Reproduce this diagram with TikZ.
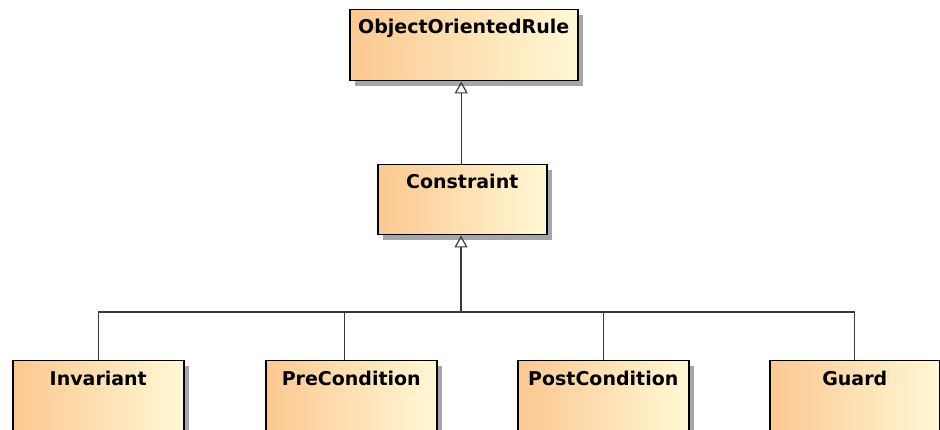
\documentclass[tikz,border=0pt]{standalone}
\usepackage{fontspec}
\setmainfont{DejaVu Sans}
\usetikzlibrary{shadows,arrows.meta}
\definecolor{peach}{HTML}{FCC891}
\definecolor{cream}{HTML}{FFF8D4}
\definecolor{wire}{HTML}{3A3A3A}
\definecolor{shadowgray}{HTML}{A6A6A6}
\begin{document}
\begin{tikzpicture}[x=1pt,y=-1pt,
  classbox/.style={draw=black, line width=1.5pt, left color=peach, right color=cream,
    drop shadow={shadow xshift=5pt, shadow yshift=-5pt, fill=shadowgray, opacity=1},
    inner sep=0pt, anchor=north west},
  title/.style={anchor=base, inner sep=0pt, font=\bfseries\fontsize{19}{22}\selectfont},
  link/.style={draw=wire, line width=1.2pt},
  gen/.style={link, -{Triangle[open, length=12pt, width=13pt, line width=1.2pt]}}]
  \fill[white] (0,0) rectangle (940,430);
  \useasboundingbox (0,0) rectangle (940,430);
  \clip (0,0) rectangle (940,430);

  % classes
  \node[classbox, minimum width=228pt, minimum height=71pt] (oor) at (349,9) {};
  \node[classbox, minimum width=169pt, minimum height=70pt] (con) at (377,164) {};
  \node[classbox, minimum width=171pt, minimum height=100pt] (inv) at (12,360) {};
  \node[classbox, minimum width=171pt, minimum height=100pt] (pre) at (265,360) {};
  \node[classbox, minimum width=171pt, minimum height=100pt] (post) at (517,360) {};
  \node[classbox, minimum width=170pt, minimum height=100pt] (guard) at (769,360) {};

  % class names
  \node[title] (toor) at ([yshift=-25pt]oor.north) {ObjectOrientedRule};
  \node[title] (tcon) at ([yshift=-25pt]con.north) {Constraint};
  \node[title] (tinv) at ([yshift=-25pt]inv.north) {Invariant};
  \node[title] (tpre) at ([yshift=-25pt]pre.north) {PreCondition};
  \node[title] (tpost) at ([yshift=-25pt]post.north) {PostCondition};
  \node[title] (tguard) at ([yshift=-25pt]guard.north) {Guard};

  % generalizations
  \draw[gen] ([xshift=-1pt]con.north) -- ([xshift=-1pt]con.north |- oor.south);
  \coordinate (bus) at (461,312);
  \draw[link] (inv.north) |- (bus) -| (guard.north);
  \draw[link] ([xshift=-7pt]pre.north) -- ([xshift=-7pt]pre.north |- bus);
  \draw[link] (post.north) -- (post.north |- bus);
  \draw[gen] (bus) -- (bus |- con.south);
\end{tikzpicture}
\end{document}
